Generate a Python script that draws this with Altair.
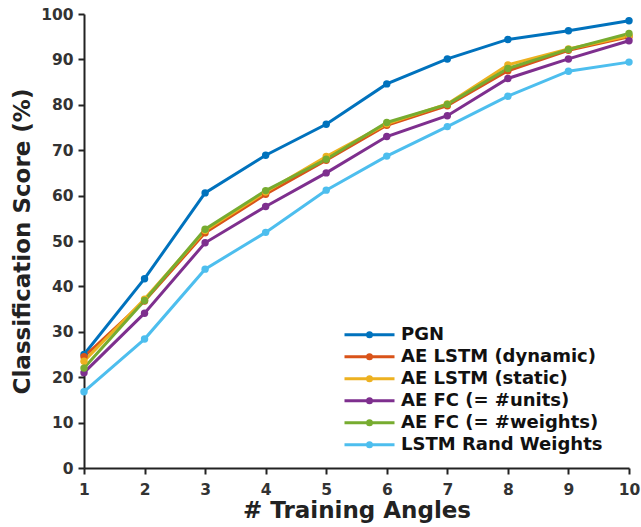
import altair as alt
import pandas as pd

angles = [1, 2, 3, 4, 5, 6, 7, 8, 9, 10]
series_names = ["PGN", "AE LSTM (dynamic)", "AE LSTM (static)", "AE FC (= #units)",
                "AE FC (= #weights)", "LSTM Rand Weights"]
pgn = [25.0, 41.7, 60.6, 68.9, 75.7, 84.6, 90.1, 94.4, 96.3, 98.5]
ae_lstm_dyn = [24.5, 36.8, 51.8, 60.3, 67.8, 75.5, 79.8, 87.5, 92.0, 95.0]
ae_lstm_static = [23.5, 37.2, 52.3, 60.8, 68.6, 75.8, 80.2, 88.8, 92.3, 95.2]
ae_fc_units = [21.0, 34.1, 49.6, 57.6, 65.0, 73.0, 77.6, 85.8, 90.1, 94.1]
ae_fc_weights = [22.0, 36.9, 52.6, 61.1, 68.0, 76.1, 80.1, 88.0, 92.2, 95.7]
lstm_rand = [16.8, 28.4, 43.8, 51.9, 61.2, 68.7, 75.2, 81.9, 87.4, 89.4]
colors = ["#0072BD", "#D95319", "#EDB120", "#7E2F8E", "#77AC30", "#4DBEEE"]

all_series = [pgn, ae_lstm_dyn, ae_lstm_static, ae_fc_units, ae_fc_weights, lstm_rand]
rows = []
for i, (name, vals) in enumerate(zip(series_names, all_series)):
    for a, v in zip(angles, vals):
        rows.append({"angle": a, "score": v, "method": name, "order": i})
df = pd.DataFrame(rows)

FONT = "DejaVu Sans"
symbol_path = ("M-1,0L1,0M0.08,0A0.08,0.08,0,1,1,-0.08,0"
               "A0.08,0.08,0,1,1,0.08,0Z")

color_scale = alt.Scale(domain=series_names, range=colors)
color = alt.Color(
    "method:N",
    scale=color_scale,
    legend=alt.Legend(
        title=None,
        orient="none",
        legendX=259,
        legendY=311,
        symbolType=symbol_path,
        symbolSize=2500,
        symbolStrokeWidth=3,
        clipHeight=19.4,
        labelFont=FONT,
        labelFontSize=18,
        labelFontWeight="bold",
        labelColor="#111111",
        labelOffset=5,
        rowPadding=2,
        labelLimit=400,
    ),
)

x = alt.X("angle:Q", scale=alt.Scale(domain=[1, 10], nice=False, zero=False),
          axis=alt.Axis(values=angles, format="d", title="# Training Angles",
                        titlePadding=2, labelPadding=8, labelFlush=False))
y = alt.Y("score:Q", scale=alt.Scale(domain=[0, 100], nice=False),
          axis=alt.Axis(values=list(range(0, 101, 10)),
                        title="Classification Score (%)", titlePadding=6,
                        labelPadding=5))

base = alt.Chart(df)
lines = base.mark_line(strokeWidth=3).encode(
    x=x, y=y, color=color, detail="method:N", order="angle:Q")
points = base.mark_point(filled=True, size=55, opacity=1).encode(
    x=x, y=y, color=alt.Color("method:N", scale=color_scale, legend=None),
    order="order:Q")

chart = alt.layer(lines, points).properties(
    width=545, height=454,
    autosize=alt.AutoSizeParams(type="none"),
    padding={"left": 84, "top": 14, "right": 12, "bottom": 59},
).configure(
    background="white",
    view=alt.ViewConfig(stroke=None),
    axis=alt.AxisConfig(
        grid=False,
        domainColor="#222222",
        domainWidth=2,
        tickColor="#222222",
        tickWidth=2,
        tickSize=6,
        labelFont=FONT,
        labelFontSize=15.5,
        labelFontWeight="bold",
        labelColor="#333333",
        titleFont=FONT,
        titleFontSize=23,
        titleFontWeight="bold",
        titleColor="#222222",
    ),
)

chart.save("out.html", embed_options={"renderer": "svg", "actions": False})
